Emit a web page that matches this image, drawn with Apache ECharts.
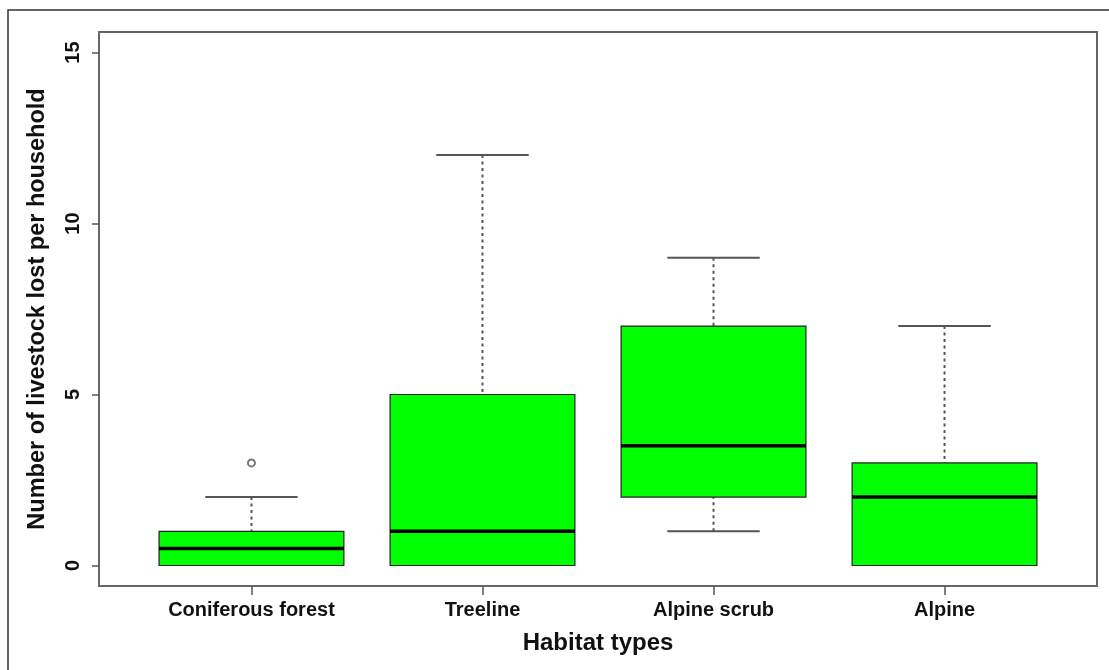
<!DOCTYPE html>
<html><head><meta charset="utf-8">
<script src="https://cdn.jsdelivr.net/npm/echarts@6/dist/echarts.min.js"></script>
<style>html,body{margin:0;padding:0;background:#fff}#c{width:1109px;height:670px}</style>
</head><body><div id="c"></div>
<script>
var categories = ['Coniferous forest', 'Treeline', 'Alpine scrub', 'Alpine'];
var lowerWhisker = [0, 0, 1, 0];
var q1 = [0, 0, 2, 0];
var median = [0.5, 1, 3.5, 2];
var q3 = [1, 5, 7, 3];
var upperWhisker = [2, 12, 9, 7];
var outliers = [[1, 3]]; // [category position, value]
var yTicks = [0, 5, 10, 15];

var FONT = 'Liberation Sans, Arial, sans-serif';
var boxData = categories.map(function (c, i) {
  return [i + 1, lowerWhisker[i], q1[i], median[i], q3[i], upperWhisker[i]];
});

function renderBox(params, api) {
  var x = api.value(0);
  var lo = api.coord([x, api.value(1)]);
  var b1 = api.coord([x - 0.4, api.value(2)]);
  var b2 = api.coord([x + 0.4, api.value(4)]);
  var md1 = api.coord([x - 0.4, api.value(3)]);
  var md2 = api.coord([x + 0.4, api.value(3)]);
  var hi = api.coord([x, api.value(5)]);
  var c1 = api.coord([x - 0.2, api.value(5)]);
  var c2 = api.coord([x + 0.2, api.value(5)]);
  var l1 = api.coord([x - 0.2, api.value(1)]);
  var l2 = api.coord([x + 0.2, api.value(1)]);
  var children = [];
  var wStyle = {stroke: '#555', lineWidth: 2, lineDash: [3, 3.5]};
  var cStyle = {stroke: '#555', lineWidth: 2};
  if (api.value(5) > api.value(4)) {
    children.push({type: 'line', shape: {x1: hi[0], y1: hi[1], x2: hi[0], y2: b2[1]}, style: wStyle});
    children.push({type: 'line', shape: {x1: c1[0], y1: c1[1], x2: c2[0], y2: c2[1]}, style: cStyle});
  }
  if (api.value(1) < api.value(2)) {
    children.push({type: 'line', shape: {x1: lo[0], y1: lo[1], x2: lo[0], y2: b1[1]}, style: wStyle});
    children.push({type: 'line', shape: {x1: l1[0], y1: l1[1], x2: l2[0], y2: l2[1]}, style: cStyle});
  }
  children.push({type: 'rect', shape: {x: b1[0], y: b2[1], width: b2[0] - b1[0], height: b1[1] - b2[1]},
    style: {fill: '#00ff00', stroke: '#222', lineWidth: 1.2}});
  children.push({type: 'line', shape: {x1: md1[0], y1: md1[1], x2: md2[0], y2: md2[1]},
    style: {stroke: '#000', lineWidth: 3.5}});
  return {type: 'group', children: children};
}

var chart = echarts.init(document.getElementById('c'), null, {renderer: 'canvas'});
chart.setOption({
  animation: false,
  backgroundColor: '#fff',
  graphic: [{
    type: 'polyline', silent: true,
    shape: {points: [[8, 700], [8, 10], [1120, 10]]},
    style: {stroke: '#333', lineWidth: 1.5, fill: null}
  }],
  grid: {left: 99, top: 32, right: 12, bottom: 84, show: true, borderColor: '#666', borderWidth: 2, backgroundColor: 'transparent'},
  xAxis: {
    type: 'value', min: 0.34, max: 4.66, position: 'bottom',
    name: 'Habitat types', nameLocation: 'middle', nameGap: 45,
    nameTextStyle: {fontFamily: FONT, fontSize: 24, fontWeight: 'bold', color: '#111'},
    axisLine: {show: false, onZero: false},
    splitLine: {show: false},
    axisTick: {show: true, inside: false, length: 9, customValues: [1, 2, 3, 4], lineStyle: {color: '#555', width: 1.5}},
    axisLabel: {show: true, customValues: [1, 2, 3, 4], margin: 14,
      formatter: function (v) { return categories[Math.round(v) - 1]; },
      fontFamily: FONT, fontSize: 20, fontWeight: 'bold', color: '#111'}
  },
  yAxis: {
    type: 'value', min: -0.6, max: 15.6, position: 'left',
    name: 'Number of livestock lost per household', nameLocation: 'middle', nameRotate: 90, nameGap: 49,
    nameTextStyle: {fontFamily: FONT, fontSize: 23.5, fontWeight: 'bold', color: '#111'},
    axisLine: {show: false, onZero: false},
    splitLine: {show: false},
    axisTick: {show: true, inside: false, length: 7, customValues: yTicks, lineStyle: {color: '#555', width: 1.5}},
    axisLabel: {show: true, customValues: yTicks, rotate: 90, margin: 16,
      fontFamily: FONT, fontSize: 20, fontWeight: 'bold', color: '#111'}
  },
  series: [{
    type: 'custom', renderItem: renderBox, data: boxData,
    encode: {x: 0, y: [1, 2, 3, 4, 5]}, clip: false
  }, {
    type: 'scatter', data: outliers, symbol: 'emptyCircle', symbolSize: 7,
    itemStyle: {color: '#555', borderColor: '#555', borderWidth: 1.3}
  }]
});
</script></body></html>
